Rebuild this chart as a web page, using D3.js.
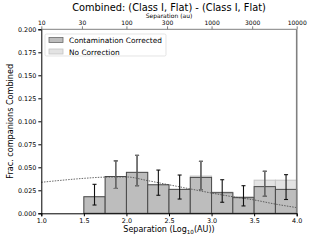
<!DOCTYPE html>
<html>
<head>
<script src="https://d3js.org/d3.v7.min.js"></script>
<style>
  body { margin: 0; background: #fff; }
  svg { font-family: "DejaVu Sans", sans-serif; }
</style>
</head>
<body>
<svg id="chart" width="330" height="240"></svg>
<script>
// bin edges in log10(AU)
var binEdges = [1.5, 1.75, 2.0, 2.25, 2.5, 2.75, 3.0, 3.25, 3.5, 3.75, 4.0];
var corrected = [0.018, 0.040, 0.0445, 0.031, 0.026, 0.039, 0.0224, 0.017, 0.029, 0.026];
var noCorrection = [0.018, 0.040, 0.0445, 0.031, 0.026, 0.0405, 0.023, 0.018, 0.036, 0.036];
// error bars (low, high)
var corrLo = [0.009, 0.027, 0.030, 0.0196, 0.0155, 0.0257, 0.012, 0.008, 0.0185, 0.015];
var corrHi = [0.0315, 0.057, 0.063, 0.047, 0.0416, 0.0565, 0.0365, 0.030, 0.0457, 0.042];
var noCorrLo = [null, 0.027, 0.030, null, null, 0.0257, null, null, 0.0185, null];
var noCorrHi = [null, 0.057, 0.063, null, null, 0.0565, null, null, 0.0457, null];
// fitted model curve
var curveX = [1.0, 1.25, 1.5, 1.75, 2.0, 2.25, 2.5, 2.75, 3.0, 3.25, 3.5, 3.75, 4.0];
var curveY = [0.0337, 0.036, 0.038, 0.0393, 0.0395, 0.0355, 0.031, 0.0265, 0.022, 0.018, 0.0145, 0.010, 0.0062];
var yTicks = [0, 0.025, 0.05, 0.075, 0.1, 0.125, 0.15, 0.175, 0.2];
var xTicks = [1.0, 1.5, 2.0, 2.5, 3.0, 3.5, 4.0];
var topTicks = [10, 30, 100, 300, 1000, 3000, 10000];
var legendLabels = ["Contamination Corrected", "No Correction"];

var svg = d3.select("#chart");
var L = 41.3, R = 296.7, T = 29.3, B = 213.3;

var x = d3.scaleLinear().domain([1, 4]).range([L, R]);
var xTop = d3.scaleLog().domain([10, 10000]).range([L, R]);
var y = d3.scaleLinear().domain([0, 0.2]).range([B, T]);

var bins = corrected.map(function(v, i) {
  return {x0: binEdges[i], x1: binEdges[i+1], c: v, n: noCorrection[i],
    lo: corrLo[i], hi: corrHi[i], nlo: noCorrLo[i], nhi: noCorrHi[i]};
});

// no correction bars behind
svg.append("g").selectAll("rect")
  .data(bins).enter().append("rect")
  .attr("x", function(d){return x(d.x0);})
  .attr("y", function(d){return y(d.n);})
  .attr("width", function(d){return x(d.x1) - x(d.x0);})
  .attr("height", function(d){return y(0) - y(d.n);})
  .attr("fill", "#e3e3e3")
  .attr("stroke", "#c4c4c4")
  .attr("stroke-width", 1);

svg.append("g").selectAll("rect")
  .data(bins).enter().append("rect")
  .attr("x", function(d){return x(d.x0);})
  .attr("y", function(d){return y(d.c);})
  .attr("width", function(d){return x(d.x1) - x(d.x0);})
  .attr("height", function(d){return y(0) - y(d.c);})
  .attr("fill", "#bdbdbd")
  .attr("stroke", "#4a4a4a")
  .attr("stroke-width", 1);

// model curve
var line = d3.line()
  .x(function(d){return x(d[0]);})
  .y(function(d){return y(d[1]);})
  .curve(d3.curveMonotoneX);
svg.append("path")
  .datum(curveX.map(function(v, i){return [v, curveY[i]];}))
  .attr("d", line)
  .attr("fill", "none")
  .attr("stroke", "#444")
  .attr("stroke-width", 0.8)
  .attr("stroke-dasharray", "1.5,1.2");

function errBars(data, loKey, hiKey, color) {
  var g = svg.append("g").attr("stroke", color).attr("stroke-width", 1.1);
  data.forEach(function(d) {
    if (d[loKey] == null) return;
    var cx = x((d.x0 + d.x1) / 2);
    g.append("line").attr("x1", cx).attr("x2", cx)
      .attr("y1", y(d[loKey])).attr("y2", y(d[hiKey]));
    g.append("line").attr("x1", cx - 2).attr("x2", cx + 2)
      .attr("y1", y(d[loKey])).attr("y2", y(d[loKey]));
    g.append("line").attr("x1", cx - 2).attr("x2", cx + 2)
      .attr("y1", y(d[hiKey])).attr("y2", y(d[hiKey]));
  });
}
errBars(bins, "lo", "hi", "#111");
errBars(bins, "nlo", "nhi", "#777");

// spines
svg.append("line").attr("x1", L).attr("x2", R).attr("y1", T).attr("y2", T)
  .attr("stroke", "#808080").attr("stroke-width", 1);
svg.append("line").attr("x1", R).attr("x2", R).attr("y1", T).attr("y2", B)
  .attr("stroke", "#808080").attr("stroke-width", 1.6);

// axes
var yAxis = svg.append("g").attr("transform", "translate(" + L + ",0)")
  .call(d3.axisLeft(y).tickValues(yTicks).tickFormat(d3.format(".3f")).tickSize(3).tickPadding(2));
var xAxis = svg.append("g").attr("transform", "translate(0," + B + ")")
  .call(d3.axisBottom(x).tickValues(xTicks).tickFormat(d3.format(".1f")).tickSize(3).tickPadding(2));
var topAxis = svg.append("g").attr("transform", "translate(0," + T + ")")
  .call(d3.axisTop(xTop).tickValues(topTicks).tickFormat(d3.format("d")).tickSize(3).tickPadding(1));

[yAxis, xAxis].forEach(function(a) {
  a.selectAll("text").attr("font-size", 6.4).attr("font-family", "DejaVu Sans").attr("fill", "#000");
  a.select(".domain").attr("stroke", "#000").attr("stroke-width", 1);
  a.selectAll(".tick line").attr("stroke", "#000");
});
topAxis.selectAll("text").attr("font-size", 6).attr("font-family", "DejaVu Sans").attr("fill", "#000");
topAxis.select(".domain").remove();
topAxis.selectAll(".tick line").attr("stroke", "#808080");

// titles
svg.append("text").attr("x", (L + R) / 2).attr("y", 11)
  .attr("text-anchor", "middle").attr("font-size", 9.8)
  .text("Combined: (Class I, Flat) - (Class I, Flat)");
svg.append("text").attr("x", (L + R) / 2).attr("y", 18)
  .attr("text-anchor", "middle").attr("font-size", 6)
  .text("Separation (au)");
var xl = svg.append("text").attr("x", (L + R) / 2).attr("y", 232)
  .attr("text-anchor", "middle").attr("font-size", 8);
xl.append("tspan").text("Separation (Log");
xl.append("tspan").attr("font-size", 5.6).attr("dy", 2).text("10");
xl.append("tspan").attr("dy", -2).text("(AU))");
svg.append("text")
  .attr("transform", "translate(13," + ((T + B) / 2) + ") rotate(-90)")
  .attr("text-anchor", "middle").attr("font-size", 8.1)
  .text("Frac. companions Combined");

// legend
var lg = svg.append("g").attr("transform", "translate(45,34)");
lg.append("rect").attr("width", 121).attr("height", 22).attr("rx", 1.5)
  .attr("fill", "#fff").attr("fill-opacity", 0.8).attr("stroke", "#d8d8d8").attr("stroke-width", 0.7);
var patchFill = ["#bdbdbd", "#e3e3e3"];
var patchStroke = ["#6a6a6a", "#c4c4c4"];
legendLabels.forEach(function(lab, i) {
  lg.append("rect").attr("x", 4).attr("y", 3.5 + i * 11.5).attr("width", 14).attr("height", 5)
    .attr("fill", patchFill[i]).attr("stroke", patchStroke[i]).attr("stroke-width", 0.8);
  lg.append("text").attr("x", 24).attr("y", 9 + i * 11.5)
    .attr("font-size", 7.4).text(lab);
});
</script>
</body>
</html>
